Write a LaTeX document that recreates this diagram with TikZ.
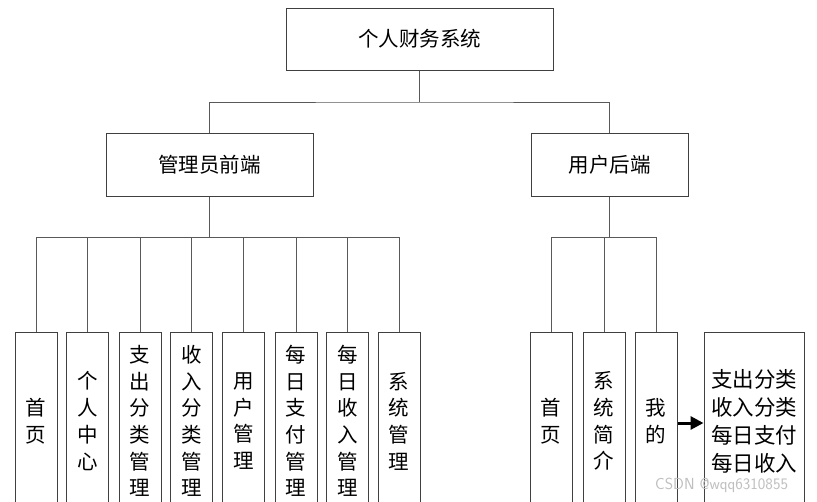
\documentclass[tikz,border=0pt]{standalone}
\usepackage{fontspec}
\newfontfamily\cjk{Noto Sans CJK SC}
\usetikzlibrary{arrows.meta}
\tikzset{
  box/.style={draw=black!75, line width=1pt, fill=white, inner sep=0pt, align=center,
    font=\cjk\fontsize{20.5}{26.7}\selectfont},
  vbox/.style={box, minimum width=42pt, minimum height=178pt},
  link/.style={draw=black!65, line width=1pt},
}
\begin{document}
\begin{tikzpicture}[x=1pt,y=-1pt]
\useasboundingbox (0,0) rectangle (817,501);
\clip (0,0) rectangle (817,501);
\fill[white] (0,0) rectangle (817,501);
% top levels
\node[box, minimum width=267pt, minimum height=62pt] (top) at (419.5,39) {个人财务系统};
\node[box, minimum width=207pt, minimum height=63pt] (admin) at (209.5,164.5) {管理员前端};
\node[box, minimum width=157pt, minimum height=63pt] (user) at (609.5,164.5) {用户后端};
% admin children
\node[vbox] (a1) at (36,421) {首\\页};
\node[vbox] (a2) at (87.5,421) {个\\人\\中\\心};
\node[vbox] (a3) at (140,421) {支\\出\\分\\类\\管\\理};
\node[vbox] (a4) at (191.5,421) {收\\入\\分\\类\\管\\理};
\node[vbox] (a5) at (243.5,421) {用\\户\\管\\理};
\node[vbox] (a6) at (296,421) {每\\日\\支\\付\\管\\理};
\node[vbox] (a7) at (347.5,421) {每\\日\\收\\入\\管\\理};
\node[vbox] (a8) at (399,421) {系\\统\\管\\理};
% user children
\node[vbox] (u1) at (551,421) {首\\页};
\node[vbox] (u2) at (604,421) {系\\统\\简\\介};
\node[vbox] (u3) at (656,421) {我\\的};
\node[box, minimum width=100pt, minimum height=178pt, font=\cjk\fontsize{21.5}{28}\selectfont] (mine) at (754,421) {支出分类\\收入分类\\每日支付\\每日收入};
% buses
\coordinate (bus0) at (419.5,102);
\coordinate (busA) at (209.5,237);
\coordinate (busU) at (609.5,237);
\draw[link] (top.south) -- (bus0);
\draw[link] (admin.north) |- (bus0) -| (user.north);
\draw[link] (admin.south) -- (busA);
\draw[link] (user.south) -- (busU);
\foreach \n in {a1,a2,a3,a4,a5,a6,a7,a8}{\draw[link] (\n.north) |- (busA);}
\foreach \n in {u1,u2,u3}{\draw[link] (\n.north) |- (busU);}
% arrow
\draw[line width=3pt, -{Triangle[length=13pt,width=13pt]}] (u3.east |- 0,423) -- (mine.west |- 0,423);
% watermark
\node[font=\sffamily\fontsize{16}{16}\selectfont, text=black!25, anchor=west, inner sep=0pt] (wm) at (655,485) {CSDN @wqq6310855};
\end{tikzpicture}
\end{document}
